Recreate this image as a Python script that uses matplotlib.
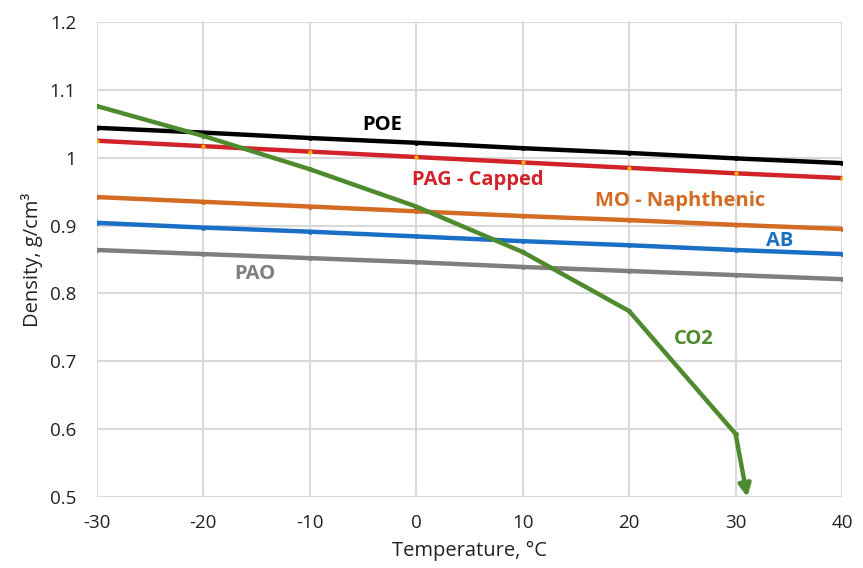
import matplotlib.pyplot as plt
import numpy as np

plt.rcParams['font.family'] = ['Open Sans', 'DejaVu Sans']
plt.rcParams['axes.unicode_minus'] = False

temps = [-30, -20, -10, 0, 10, 20, 30, 40]
poe = [1.044, 1.037, 1.029, 1.022, 1.014, 1.007, 0.999, 0.992]
pag = [1.025, 1.017, 1.009, 1.001, 0.993, 0.985, 0.977, 0.970]
mo = [0.942, 0.935, 0.928, 0.921, 0.914, 0.908, 0.901, 0.895]
ab = [0.904, 0.897, 0.891, 0.884, 0.877, 0.871, 0.864, 0.858]
pao = [0.864, 0.858, 0.852, 0.846, 0.839, 0.833, 0.827, 0.821]

co2_t = [-30, -20, -10, 0, 10, 20, 30]
co2 = [1.076, 1.032, 0.983, 0.928, 0.861, 0.774, 0.593]
co2_end = (31.1, 0.5)

yticks = [0.5, 0.6, 0.7, 0.8, 0.9, 1.0, 1.1, 1.2]
ytick_labels = ['0.5', '0.6', '0.7', '0.8', '0.9', '1', '1.1', '1.2']
xticks = [-30, -20, -10, 0, 10, 20, 30, 40]

fig, ax = plt.subplots(figsize=(8.63, 5.68), dpi=100)
fig.subplots_adjust(left=0.1124, right=0.9757, top=0.9613, bottom=0.125)

lw = 3.2
ax.plot(temps, pao, color='#7f7f7f', lw=lw, marker='o', ms=2.5, zorder=3)
ax.plot(temps, ab, color='#1b6fc4', lw=lw, marker='o', ms=2.5, zorder=3)
ax.plot(temps, mo, color='#d36b22', lw=lw, marker='o', ms=2.5, zorder=3)
ax.plot(temps, pag, color='#d2232a', lw=lw, marker='o', ms=2, mfc='#f5b800', mec='#f5b800', zorder=3)
ax.plot(temps, poe, color='#000000', lw=lw, marker='o', ms=2.5, zorder=3)
ax.plot(co2_t, co2, color='#4e8a2e', lw=lw, marker='o', ms=2.5, zorder=4)
ax.annotate('', xy=co2_end, xytext=(co2_t[-1], co2[-1]),
            arrowprops=dict(arrowstyle='-|>', color='#4e8a2e', lw=lw,
                            mutation_scale=18, shrinkA=0, shrinkB=0),
            annotation_clip=False, zorder=4)

lab = dict(fontsize=14.5, fontweight='bold', ha='center', va='center')
ax.text(-3.2, 1.048, 'POE', color='#000000', **lab)
ax.text(5.8, 0.967, 'PAG - Capped', color='#d2232a', **lab)
ax.text(24.8, 0.936, 'MO - Naphthenic', color='#d36b22', **lab)
ax.text(34.1, 0.877, 'AB', color='#1b6fc4', **lab)
ax.text(-15.2, 0.829, 'PAO', color='#7f7f7f', **lab)
ax.text(26.1, 0.733, 'CO2', color='#4e8a2e', **lab)

ax.set_xlim(-30, 40)
ax.set_ylim(0.5, 1.2)
ax.set_xticks(xticks)
ax.set_yticks(yticks)
ax.set_yticklabels(ytick_labels)
ax.tick_params(length=0, labelsize=13.5, colors='#222222')
ax.tick_params(axis='x', pad=12)
ax.tick_params(axis='y', pad=15)
ax.grid(True, color='#d9d9d9', lw=1.5)
ax.set_axisbelow(True)
for s in ax.spines.values():
    s.set_visible(False)
ax.set_xlabel('Temperature, °C', fontsize=14.5, color='#222222', labelpad=7)
ax.set_ylabel('Density, g/cm³', fontsize=14.5, color='#222222', labelpad=5)

fig.savefig('out.png', dpi=100)
